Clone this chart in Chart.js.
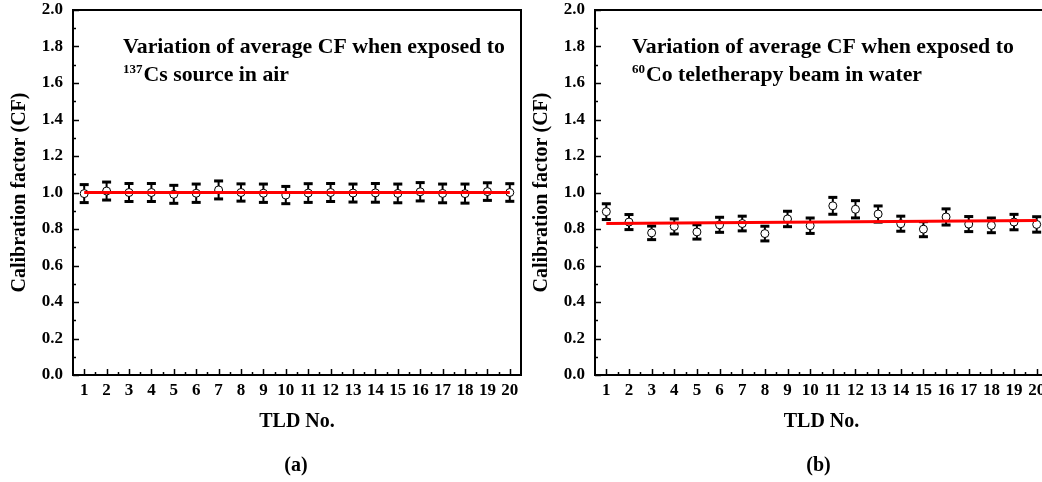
<!DOCTYPE html>
<html>
<head>
<meta charset="utf-8">
<script src="https://cdn.jsdelivr.net/npm/chart.js@4.4.0/dist/chart.umd.min.js"></script>
<style>
  html, body { margin: 0; padding: 0; background: #fff; }
  #wrap { position: relative; width: 1042px; height: 482px; overflow: hidden; }
  .box { position: absolute; top: 0; }
  #boxA { left: 0; }
  #boxB { left: 522px; }
</style>
</head>
<body>
<div id="wrap">
  <div class="box" id="boxA"><canvas id="chartA" width="530" height="482"></canvas></div>
  <div class="box" id="boxB"><canvas id="chartB" width="535" height="482"></canvas></div>
</div>
<script>
// TLD numbers (x axis)
const tldNo = [1, 2, 3, 4, 5, 6, 7, 8, 9, 10, 11, 12, 13, 14, 15, 16, 17, 18, 19, 20];

// (a) 137Cs source in air
const cfA  = [0.994, 1.008, 1.000, 1.000, 0.990, 0.996, 1.014, 1.000, 0.996, 0.986,
              0.997, 1.000, 0.997, 0.998, 0.995, 1.004, 0.995, 0.994, 1.005, 1.000];
const errA = [0.052, 0.052, 0.052, 0.052, 0.052, 0.053, 0.052, 0.050, 0.053, 0.050,
              0.054, 0.052, 0.052, 0.054, 0.054, 0.053, 0.054, 0.055, 0.051, 0.051];
const fitAx = [1, 20];
const fitAy = [1.0, 1.0];

// (b) 60Co teletherapy beam in water
const cfB  = [0.895, 0.838, 0.779, 0.814, 0.784, 0.823, 0.830, 0.775, 0.855, 0.818,
              0.927, 0.908, 0.882, 0.829, 0.799, 0.866, 0.827, 0.820, 0.838, 0.825];
const errB = [0.046, 0.044, 0.040, 0.044, 0.042, 0.044, 0.043, 0.043, 0.045, 0.045,
              0.049, 0.050, 0.047, 0.044, 0.044, 0.047, 0.044, 0.043, 0.045, 0.045];
const fitBx = [1, 20];
const fitBy = [0.830, 0.846];

const serif = "'Liberation Serif', 'Times New Roman', serif";

// error bars, inward ticks, frame, note text and panel label
const decor = {
  id: "decor",
  beforeDatasetsDraw(chart, args, opts) {
    const ctx = chart.ctx, x = chart.scales.x, y = chart.scales.y;
    ctx.save();
    ctx.strokeStyle = "#000";
    ctx.fillStyle = "#000";
    ctx.lineWidth = 2;
    tldNo.forEach((n, i) => {
      const px = x.getPixelForValue(n);
      const top = y.getPixelForValue(opts.cf[i] + opts.err[i]);
      const bot = y.getPixelForValue(opts.cf[i] - opts.err[i]);
      ctx.beginPath();
      ctx.moveTo(px, top);
      ctx.lineTo(px, bot);
      ctx.stroke();
      ctx.fillRect(px - 4.5, top - 1, 9, 3);
      ctx.fillRect(px - 4.5, bot - 2, 9, 3);
    });
    ctx.restore();
  },
  afterDraw(chart, args, opts) {
    const ctx = chart.ctx, x = chart.scales.x, y = chart.scales.y;
    const a = chart.chartArea;
    ctx.save();
    ctx.strokeStyle = "#000";
    ctx.lineWidth = 1.5;
    // y ticks (inside)
    for (let k = 0; k <= 20; k++) {
      const py = Math.round(y.getPixelForValue(k / 10)) + 0.5;
      const len = k % 2 === 0 ? 6 : 3;
      ctx.beginPath();
      ctx.moveTo(a.left, py);
      ctx.lineTo(a.left + len, py);
      ctx.stroke();
    }
    // x ticks (inside)
    tldNo.forEach(n => {
      [[n, 6], [n + 0.5, 3]].forEach(([v, len]) => {
        if (v >= x.max) return;
        const px = Math.round(x.getPixelForValue(v)) + 0.5;
        ctx.beginPath();
        ctx.moveTo(px, a.bottom);
        ctx.lineTo(px, a.bottom - len);
        ctx.stroke();
      });
    });
    // frame
    ctx.lineWidth = 2;
    ctx.strokeRect(a.left, a.top, a.right - a.left, a.bottom - a.top);
    // note
    ctx.fillStyle = "#000";
    ctx.textBaseline = "alphabetic";
    ctx.textAlign = "left";
    const tx = a.left + opts.noteDx;
    ctx.font = "bold 21.8px " + serif;
    ctx.fillText(opts.note1, tx, 53);
    ctx.font = "bold 13px " + serif;
    ctx.fillText(opts.sup, tx, 73);
    const w = ctx.measureText(opts.sup).width;
    ctx.font = "bold 21.8px " + serif;
    ctx.fillText(opts.note2, tx + w + 1, 81);
    // panel label
    ctx.font = "bold 20px " + serif;
    ctx.textAlign = "center";
    ctx.textBaseline = "middle";
    ctx.fillText(opts.panel, (a.left + Math.min(a.right, 1042 - opts.offset)) / 2 + opts.panelDx, 466);
    ctx.restore();
  }
};

function makeChart(id, cf, err, fitX, fitY, panel, offset, panelDx, noteDx, sup, note2) {
  new Chart(document.getElementById(id), {
    type: "scatter",
    data: {
      datasets: [
        {
          data: fitX.map((v, i) => ({ x: v, y: fitY[i] })),
          showLine: true,
          borderColor: "#ff0000",
          borderWidth: 3,
          pointRadius: 0,
          order: 0
        },
        {
          data: tldNo.map((n, i) => ({ x: n, y: cf[i] })),
          pointStyle: "circle",
          pointRadius: 4,
          pointBorderWidth: 1,
          pointBorderColor: "#000",
          pointBackgroundColor: "#fff",
          order: 1
        }
      ]
    },
    options: {
      responsive: false,
      animation: false,
      layout: { padding: { top: 10, left: 0, right: 9, bottom: 48 } },
      plugins: {
        legend: { display: false },
        tooltip: { enabled: false },
        decor: {
          cf: cf, err: err, noteDx: noteDx, panel: panel, offset: offset, panelDx: panelDx,
          note1: "Variation of average CF when exposed to", sup: sup, note2: note2
        }
      },
      scales: {
        x: {
          type: "linear",
          min: 0.5,
          max: 20.5,
          afterBuildTicks: s => { s.ticks = tldNo.map(v => ({ value: v })); },
          afterFit: s => { s.height = 59; s.paddingLeft = 0; s.paddingRight = 0; },
          grid: { display: false, drawTicks: false },
          border: { display: false },
          ticks: {
            color: "#000",
            padding: 5,
            maxRotation: 0,
            autoSkip: false,
            font: { family: serif, size: 17, weight: "bold" }
          },
          title: {
            display: true,
            text: "TLD No.",
            color: "#000",
            padding: { top: 0, bottom: 0 },
            font: { family: serif, size: 20, weight: "bold" }
          }
        },
        y: {
          min: 0,
          max: 2,
          afterFit: s => { s.width = 73; s.paddingTop = 0; s.paddingBottom = 0; },
          grid: { display: false, drawTicks: false },
          border: { display: false },
          ticks: {
            stepSize: 0.2,
            color: "#000",
            padding: 10,
            callback: v => v.toFixed(1),
            font: { family: serif, size: 17, weight: "bold" }
          },
          title: {
            display: true,
            text: "Calibration factor (CF)",
            color: "#000",
            padding: { top: 8, bottom: 0 },
            font: { family: serif, size: 20, weight: "bold" }
          }
        }
      }
    },
    plugins: [decor]
  });
}

makeChart("chartA", cfA, errA, fitAx, fitAy, "(a)", 0, -1, 50, "137", "Cs source in air");
makeChart("chartB", cfB, errB, fitBx, fitBy, "(b)", 522, 0, 37, "60", "Co teletherapy beam in water");
</script>
</body>
</html>
